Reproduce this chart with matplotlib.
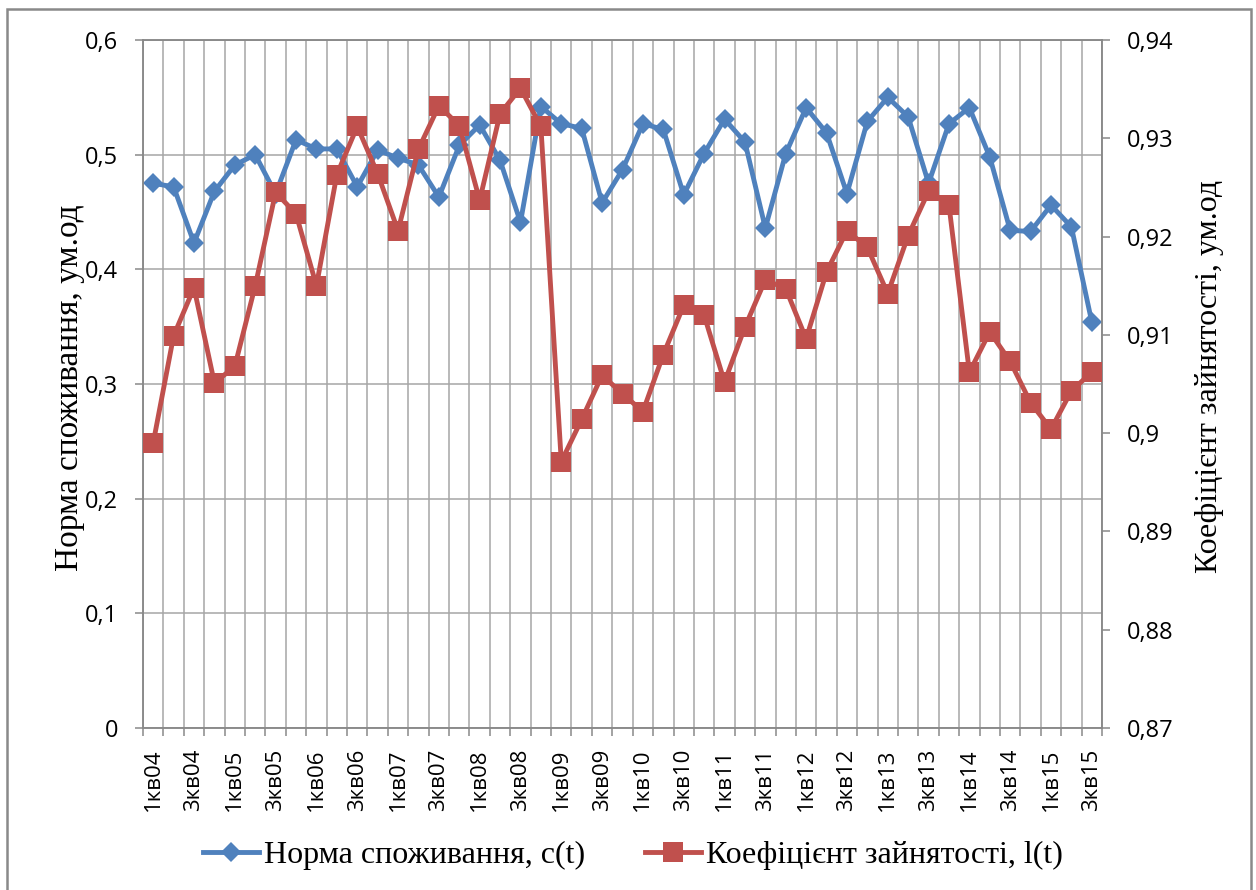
import matplotlib.pyplot as plt
from matplotlib.ticker import FixedLocator, FuncFormatter
from matplotlib.patches import Rectangle
import numpy as np

# quarters 1кв04 .. 3кв15
quarters = [f"{q}кв{y:02d}" for y in range(4, 16) for q in range(1, 5)][:47]

# норма споживання c(t), ліва вісь
consumption = [0.475, 0.472, 0.423, 0.468, 0.491, 0.500, 0.466, 0.513, 0.505, 0.505,
               0.472, 0.504, 0.497, 0.491, 0.463, 0.508, 0.526, 0.495, 0.441, 0.542,
               0.527, 0.523, 0.458, 0.487, 0.527, 0.522, 0.465, 0.501, 0.531, 0.511,
               0.436, 0.501, 0.541, 0.519, 0.466, 0.529, 0.550, 0.533, 0.475, 0.527,
               0.541, 0.498, 0.434, 0.433, 0.456, 0.437, 0.354]

# коефіцієнт зайнятості l(t), права вісь
employment = [0.8990, 0.9099, 0.9148, 0.9051, 0.9068, 0.9150, 0.9245, 0.9223, 0.9150, 0.9263,
              0.9312, 0.9264, 0.9206, 0.9289, 0.9333, 0.9313, 0.9237, 0.9325, 0.9351, 0.9312,
              0.8971, 0.9014, 0.9059, 0.9040, 0.9022, 0.9080, 0.9130, 0.9120, 0.9052, 0.9108,
              0.9156, 0.9147, 0.9096, 0.9164, 0.9206, 0.9189, 0.9142, 0.9201, 0.9246, 0.9232,
              0.9062, 0.9103, 0.9073, 0.9031, 0.9004, 0.9043, 0.9062]

left_ticks = [0, 0.1, 0.2, 0.3, 0.4, 0.5, 0.6]
right_ticks = [0.87, 0.88, 0.89, 0.90, 0.91, 0.92, 0.93, 0.94]

BLUE = '#4F81BD'
RED = '#C0504D'
GRAY = '#898989'
GRID = '#a6a6a6'
SANS = ['Open Sans', 'DejaVu Sans']
SERIF = ['Liberation Serif', 'DejaVu Serif']

def comma(v, pos=None):
    s = f"{v:.2f}".rstrip('0').rstrip('.')
    return s.replace('.', ',')

fig = plt.figure(figsize=(12.56, 8.9), dpi=100)
ax = fig.add_axes([143 / 1256, 1 - 728 / 890, 959 / 1256, 688 / 890])
ax2 = ax.twinx()

x = np.arange(len(quarters))

ax.plot(x, consumption, color=BLUE, lw=3.5, marker='D', ms=10.5, mew=0,
        label='Норма споживання, c(t)', zorder=3)
ax2.plot(x, employment, color=RED, lw=3.5, marker='s', ms=14.5, mew=0,
         label='Коефіцієнт зайнятості, l(t)', zorder=3)

ax.set_xlim(-0.5, len(quarters) - 0.5)
ax.set_ylim(0, 0.6)
ax2.set_ylim(0.87, 0.94)

# category axis: labels every second quarter, ticks and grid between quarters
ax.xaxis.set_major_locator(FixedLocator(x[::2]))
ax.set_xticklabels(quarters[::2], rotation=90, fontsize=16, family=SANS)
ax.xaxis.set_minor_locator(FixedLocator(np.arange(-0.5, len(quarters), 1)))
ax.tick_params(axis='x', which='major', length=0, pad=15)
ax.tick_params(axis='x', which='minor', length=6, width=1.1, color=GRAY, direction='out')
ax.grid(True, which='minor', axis='x', color=GRID, lw=1.1)
ax.grid(True, which='major', axis='y', color=GRID, lw=1.1)

ax.set_yticks(left_ticks)
ax.yaxis.set_major_formatter(FuncFormatter(comma))
ax.tick_params(axis='y', length=6, width=1.1, color=GRAY, pad=12, labelsize=17)
for t in ax.get_yticklabels():
    t.set_family(SANS)

ax2.set_yticks(right_ticks)
ax2.yaxis.set_major_formatter(FuncFormatter(comma))
ax2.tick_params(axis='y', length=6, width=1.1, color=GRAY, pad=12, labelsize=17)
for t in ax2.get_yticklabels():
    t.set_family(SANS)

for a in (ax, ax2):
    for sp in a.spines.values():
        sp.set_color(GRAY)
        sp.set_linewidth(1.1)

fig.text(70 / 1256, 1 - 388 / 890, 'Норма споживання, ум.од', rotation=90,
         ha='center', va='center', fontsize=24, family=SERIF)
fig.text(1209 / 1256, 1 - 376 / 890, 'Коефіцієнт зайнятості, ум.од', rotation=90,
         ha='center', va='center', fontsize=23, family=SERIF)

h1, l1 = ax.get_legend_handles_labels()
h2, l2 = ax2.get_legend_handles_labels()
fig.legend(h1 + h2, l1 + l2, loc='center', bbox_to_anchor=(633 / 1256, 1 - 855 / 890),
           ncol=2, frameon=False, prop={'family': SERIF, 'size': 23},
           handlelength=1.75, handletextpad=0.15, columnspacing=1.9,
           borderpad=0, borderaxespad=0)

# chart area border
fig.patches.append(Rectangle((7 / 1256, -0.02), 1244 / 1256, 1.02 - 9 / 890,
                             transform=fig.transFigure, fill=False,
                             edgecolor=GRAY, lw=1.8))

fig.savefig('out.png', dpi=100)
